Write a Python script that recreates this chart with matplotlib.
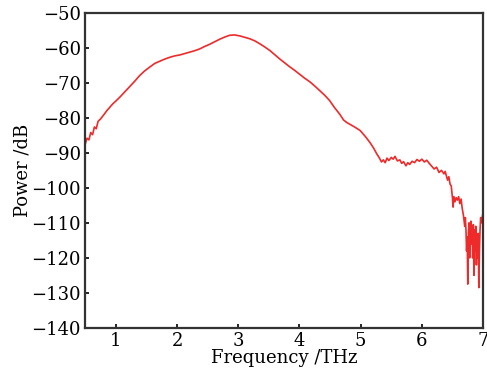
import numpy as np
import matplotlib
matplotlib.use('Agg')
import matplotlib.pyplot as plt

plt.rcParams['font.family'] = ['DejaVu Serif']

freq = [0.50, 0.53, 0.56, 0.59, 0.62, 0.65, 0.68, 0.71, 0.75, 0.80, 0.85, 0.90,
        0.95, 1.00, 1.07, 1.15, 1.23, 1.31, 1.39, 1.47, 1.56, 1.64, 1.72, 1.80,
        1.88, 1.96, 2.05, 2.13, 2.21, 2.29, 2.37, 2.45, 2.53, 2.61, 2.70, 2.78,
        2.86, 2.94, 3.03, 3.11, 3.19, 3.27, 3.35, 3.43, 3.52, 3.60, 3.68, 3.76,
        3.84, 3.92, 4.00, 4.08, 4.17, 4.25, 4.33, 4.41, 4.49, 4.57, 4.66, 4.72,
        4.77, 4.83, 4.90, 4.99, 5.07, 5.15, 5.21, 5.26, 5.30, 5.34, 5.37, 5.40,
        5.43, 5.46, 5.50, 5.53, 5.56, 5.60, 5.64, 5.67, 5.70, 5.74, 5.77, 5.80,
        5.84, 5.88, 5.92, 5.96, 6.00, 6.04, 6.08, 6.12, 6.16, 6.20, 6.24, 6.28,
        6.32, 6.36, 6.38, 6.40, 6.42, 6.44, 6.46, 6.48, 6.50, 6.51, 6.52, 6.54,
        6.56, 6.58, 6.60, 6.62, 6.64, 6.66, 6.68, 6.70, 6.71, 6.72, 6.73, 6.74,
        6.75, 6.76, 6.77, 6.78, 6.79, 6.80, 6.81, 6.82, 6.83, 6.84, 6.85, 6.86,
        6.87, 6.88, 6.89, 6.90, 6.91, 6.92, 6.93, 6.94, 6.95, 6.96, 6.97, 6.98,
        7.00]
power = [-87.5, -85.8, -86.3, -84.2, -84.8, -82.6, -83.1, -81.0, -80.3, -79.2, -78.0, -77.0,
         -76.0, -75.2, -74.0, -72.5, -71.0, -69.5, -67.9, -66.6, -65.4, -64.4, -63.8, -63.2,
         -62.7, -62.3, -62.0, -61.6, -61.2, -60.8, -60.3, -59.6, -59.0, -58.3, -57.5, -56.9,
         -56.4, -56.3, -56.6, -57.0, -57.4, -58.0, -58.8, -59.7, -60.8, -62.0, -63.2, -64.3,
         -65.4, -66.4, -67.5, -68.6, -69.7, -70.9, -72.2, -73.5, -75.0, -77.0, -79.0, -80.6,
         -81.3, -81.9, -82.6, -83.6, -85.2, -87.0, -88.6, -90.2, -91.3, -92.6, -92.0, -92.8,
         -91.5, -92.2, -91.3, -91.8, -91.0, -92.3, -92.0, -93.0, -92.5, -93.7, -92.8, -93.3,
         -92.4, -92.8, -91.9, -92.4, -91.8, -92.6, -92.1, -93.0, -93.8, -94.6, -94.1, -95.6,
         -95.0, -96.0, -95.3, -96.5, -97.8, -96.8, -98.9, -99.5, -103.0, -105.5, -102.5, -104.0,
         -102.8, -103.5, -102.5, -104.5, -103.2, -106.0, -108.0, -111.0, -108.5, -112.0, -118.0, -114.0,
         -127.5, -113.0, -110.0, -120.0, -112.0, -109.5, -116.0, -111.0, -120.0, -110.5, -125.0, -112.0,
         -118.0, -111.0, -122.0, -114.0, -120.0, -113.0, -128.5, -118.0, -112.0, -108.5, -110.0, -109.0,
         -107.0]

fig = plt.figure(figsize=(4.87, 3.79), dpi=100)
ax = fig.add_axes([0.175, 0.135, 0.817, 0.831])
ax.plot(freq, power, color='#ee2a2a', linewidth=1.2)

ax.set_xlim(0.5, 7)
ax.set_ylim(-140, -50)
ax.set_xticks([1, 2, 3, 4, 5, 6, 7])
ax.set_yticks(np.arange(-140, -49, 10))
ax.tick_params(direction='in', length=3, width=1.2, labelsize=13, pad=3)
for s in ax.spines.values():
    s.set_linewidth(1.6)
    s.set_color('#333333')

ax.set_xlabel('Frequency /THz', fontsize=13, labelpad=-1)
ax.set_ylabel('Power /dB', fontsize=13, labelpad=0)

fig.savefig('out.png', dpi=100)
